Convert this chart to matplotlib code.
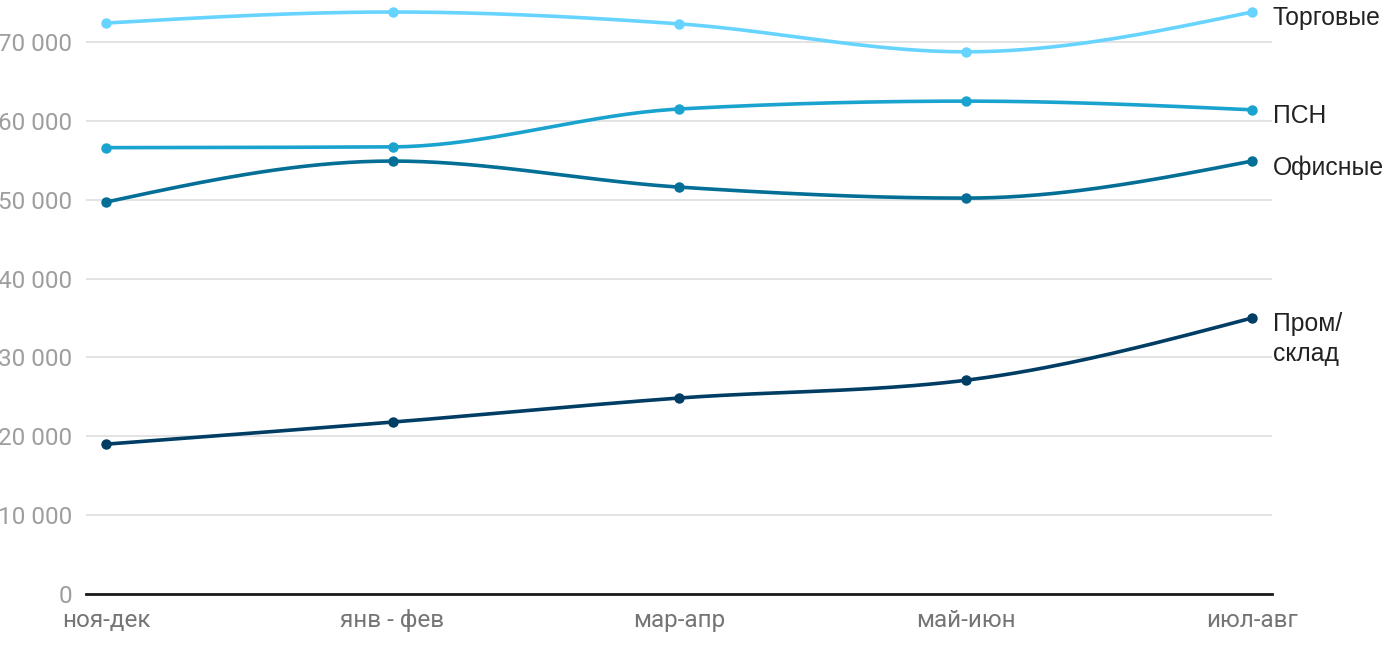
import numpy as np
import matplotlib.pyplot as plt

# данные
periods = ['ноя-дек', 'янв - фев', 'мар-апр', 'май-июн', 'июл-авг']
trade = [72400, 73800, 72300, 68750, 73800]
psn = [56600, 56700, 61500, 62500, 61400]
office = [49700, 54900, 51600, 50200, 54900]
warehouse = [19000, 21800, 24850, 27100, 35000]

series = [
    ('Торговые', trade, '#66d4ff'),
    ('ПСН', psn, '#1ba3d0'),
    ('Офисные', office, '#036e96'),
    ('Пром/\nсклад', warehouse, '#003d64'),
]


def monotone(x, y, n=40):
    # монотонная кубическая кривая (как curveMonotoneX)
    x = np.asarray(x, float)
    y = np.asarray(y, float)
    h = np.diff(x)
    s = np.diff(y) / h
    t = np.zeros(len(x))
    for i in range(1, len(x) - 1):
        p = (s[i - 1] * h[i] + s[i] * h[i - 1]) / (h[i - 1] + h[i])
        t[i] = (np.sign(s[i - 1]) + np.sign(s[i])) * min(abs(s[i - 1]), abs(s[i]), 0.5 * abs(p))
    t[0] = (3 * s[0] - t[1]) / 2
    t[-1] = (3 * s[-1] - t[-2]) / 2
    xs, ys = [], []
    for i in range(len(x) - 1):
        u = np.linspace(0, 1, n)
        h00 = 2 * u**3 - 3 * u**2 + 1
        h10 = u**3 - 2 * u**2 + u
        h01 = -2 * u**3 + 3 * u**2
        h11 = u**3 - u**2
        xs.append(x[i] + u * h[i])
        ys.append(h00 * y[i] + h10 * h[i] * t[i] + h01 * y[i + 1] + h11 * h[i] * t[i + 1])
    return np.concatenate(xs), np.concatenate(ys)


fig = plt.figure(figsize=(14, 6.5), dpi=100)
ax = fig.add_axes([86 / 1400, 1 - 594 / 650, 1186 / 1400, 594 / 650])

x = np.arange(len(periods))
for name, vals, color in series:
    cx, cy = monotone(x, vals)
    ax.plot(cx, cy, color=color, lw=2.6, solid_capstyle='round', clip_on=False, zorder=3)
    ax.plot(x, vals, 'o', color=color, ms=6.5, clip_on=False, zorder=4)
    if '\n' in name:
        ax.annotate(name, (x[-1], vals[-1]), xytext=(15, 4), textcoords='offset points',
                    va='top', ha='left', fontsize=17.8, family='Liberation Sans',
                    color='#222222', linespacing=1.3, annotation_clip=False)
    else:
        ax.annotate(name, (x[-1], vals[-1]), xytext=(15, -4.5), textcoords='offset points',
                    va='center', ha='left', fontsize=17.8, family='Liberation Sans',
                    color='#222222', annotation_clip=False)

ax.set_xlim(-20 / 286.5, 4 + 20 / 286.5)
ax.set_ylim(0, 594 / 78.86 * 10000)
ax.set_yticks(range(0, 70001, 10000))
ax.set_yticklabels([f'{v:,}'.replace(',', ' ') for v in range(0, 70001, 10000)])
ax.set_xticks(x)
ax.set_xticklabels(periods)

ax.grid(axis='y', color='#e3e3e3', lw=1.4)
ax.set_axisbelow(True)
for sp in ['top', 'right', 'left']:
    ax.spines[sp].set_visible(False)
ax.spines['bottom'].set_color('#1a1a1a')
ax.spines['bottom'].set_linewidth(2)
ax.spines['bottom'].set_zorder(2)

ax.tick_params(axis='y', length=0, pad=10, labelsize=17.5, labelcolor='#9e9e9e')
ax.tick_params(axis='x', length=0, pad=11, labelsize=17.5, labelcolor='#757575')
for lab in ax.get_xticklabels() + ax.get_yticklabels():
    lab.set_family('Roboto')

fig.savefig('out.png', dpi=100)
